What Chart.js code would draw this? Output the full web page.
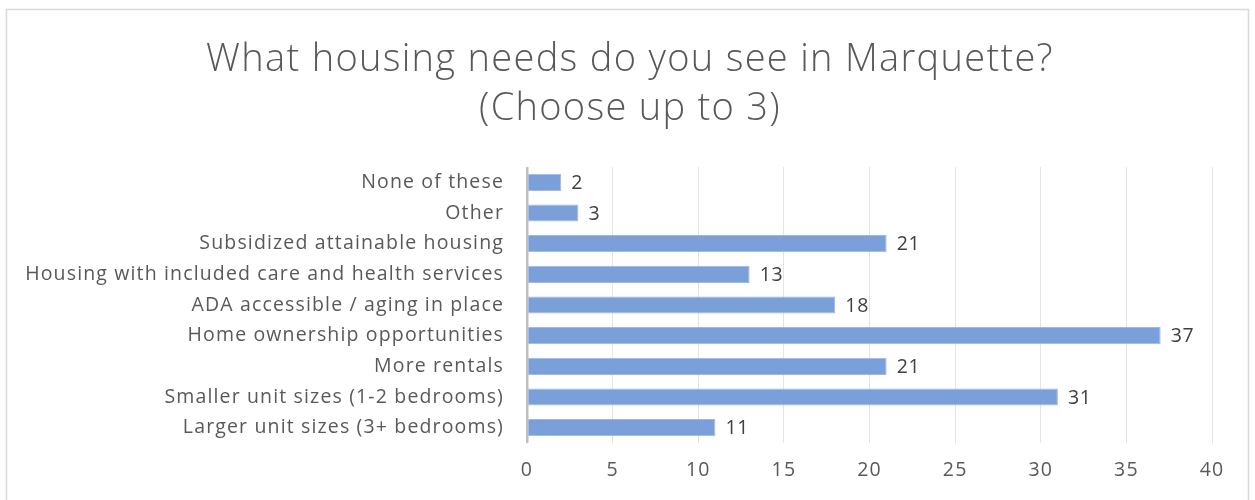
<!DOCTYPE html>
<html>
<head>
<meta charset="utf-8">
<script src="https://cdn.jsdelivr.net/npm/chart.js@4"></script>
<style>
  html, body { margin: 0; padding: 0; background: #fff; }
  #wrap { position: relative; width: 1255px; height: 500px; }
</style>
</head>
<body>
<div id="wrap"><canvas id="housingChart" width="1255" height="500"></canvas></div>
<script>
// chart data
const categories = [
    'None of these',
    'Other',
    'Subsidized attainable housing',
    'Housing with included care and health services',
    'ADA accessible / aging in place',
    'Home ownership opportunities',
    'More rentals',
    'Smaller unit sizes (1-2 bedrooms)',
    'Larger unit sizes (3+ bedrooms)'
];
const responses = [2, 3, 21, 13, 18, 37, 21, 31, 11];
const xTicks = [0, 5, 10, 15, 20, 25, 30, 35, 40];
const titleLines = ['What housing needs do you see in Marquette?', '(Choose up to 3)'];

const FONT = "'Open Sans', sans-serif";

// outer frame, wide letter spacing for all chart text
const framePlugin = {
    id: 'frame',
    beforeDraw(chart) {
        const ctx = chart.ctx;
        ctx.save();
        ctx.fillStyle = '#fff';
        ctx.fillRect(0, 0, chart.width, chart.height);
        ctx.strokeStyle = '#d9d9d9';
        ctx.lineWidth = 1.5;
        ctx.strokeRect(6.5, 9.5, 1242, 520);
        ctx.restore();
        ctx.letterSpacing = '1.15px';
    },
    afterDraw(chart) {
        // two line title
        const ctx = chart.ctx;
        ctx.save();
        ctx.font = "300 38px " + FONT;
        ctx.letterSpacing = '1.3px';
        ctx.fillStyle = '#595959';
        ctx.textAlign = 'center';
        ctx.textBaseline = 'alphabetic';
        ctx.fillText(titleLines[0], 630, 71);
        ctx.fillText(titleLines[1], 630, 120);
        ctx.restore();
    }
};

// value labels at the end of each bar
const valueLabels = {
    id: 'valueLabels',
    afterDatasetsDraw(chart) {
        const ctx = chart.ctx;
        const meta = chart.getDatasetMeta(0);
        ctx.save();
        ctx.font = "19.5px " + FONT;
        ctx.letterSpacing = '0.8px';
        ctx.fillStyle = '#404040';
        ctx.textAlign = 'left';
        ctx.textBaseline = 'middle';
        meta.data.forEach((bar, i) => {
            ctx.fillText(String(responses[i]), bar.x + 10, bar.y + 1);
        });
        ctx.restore();
    }
};

new Chart(document.getElementById('housingChart').getContext('2d'), {
    type: 'bar',
    data: {
        labels: categories,
        datasets: [{
            label: 'Responses',
            data: responses,
            backgroundColor: '#7b9fd8',
            borderColor: '#9db8e3',
            borderWidth: 1,
            barPercentage: 0.56,
            categoryPercentage: 1.0
        }]
    },
    options: {
        indexAxis: 'y',
        responsive: false,
        animation: false,
        layout: { padding: { left: 0, right: 43, top: 167, bottom: 0 } },
        scales: {
            x: {
                min: 0,
                max: 40,
                afterBuildTicks: (scale) => { scale.ticks = xTicks.map(v => ({ value: v })); },
                grid: {
                    color: (c) => c.index === 0 ? '#bfbfbf' : '#e4e4e4',
                    lineWidth: (c) => c.index === 0 ? 2.5 : 1,
                    drawTicks: false
                },
                border: { display: false },
                ticks: {
                    padding: 16,
                    color: '#595959',
                    font: { family: FONT, size: 19.5 }
                },
                afterFit: (scale) => { scale.height = 57; }
            },
            y: {
                grid: { display: false, drawTicks: false },
                border: { display: false },
                ticks: {
                    padding: 23,
                    color: '#595959',
                    font: { family: FONT, size: 19.5 }
                },
                afterFit: (scale) => { scale.width = 527; }
            }
        },
        plugins: {
            legend: { display: false },
            tooltip: { enabled: false },
            title: { display: false }
        }
    },
    plugins: [framePlugin, valueLabels]
});
</script>
</body>
</html>
